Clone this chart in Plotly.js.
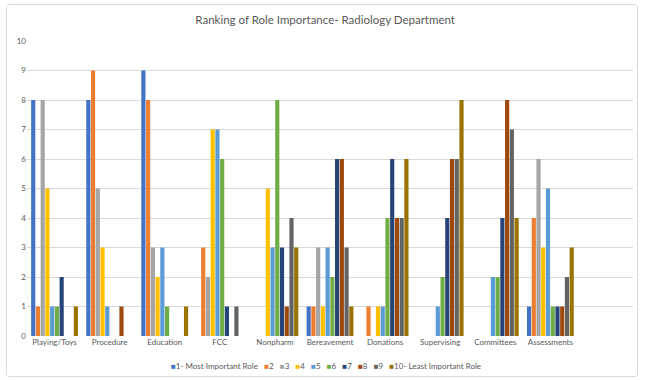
<!DOCTYPE html>
<html>
<head>
<meta charset="utf-8">
<script src="https://cdn.plot.ly/plotly-3.0.1.min.js"></script>
<style>
  html, body { margin: 0; padding: 0; background: #ffffff; }
  #wrap { position: absolute; left: 6px; top: 4px; width: 630px; height: 371px; border: 1px solid #d9d9d9; border-radius: 3px; background: #fff; }
  #chart { width: 630px; height: 371px; }
</style>
</head>
<body>
<div id="wrap"><div id="chart"></div></div>
<script>
// ---- data ----
const categories = ["Playing/Toys", "Procedure", "Education", "FCC", "Nonpharm", "Bereavement", "Donations", "Supervising", "Committees", "Assessments"];
const seriesNames = ["1- Most Important Role", "2", "3", "4", "5", "6", "7", "8", "9", "10- Least Important Role"];
const seriesColors = ["#4472C4", "#ED7D31", "#A5A5A5", "#FFC000", "#5B9BD5", "#70AD47", "#264478", "#9E480E", "#636363", "#997300"];
const rank1  = [8, 8, 9, 0, 0, 1, 0, 0, 0, 1];
const rank2  = [1, 9, 8, 3, 0, 1, 1, 0, 0, 4];
const rank3  = [8, 5, 3, 2, 0, 3, 0, 0, 0, 6];
const rank4  = [5, 3, 2, 7, 5, 1, 1, 0, 0, 3];
const rank5  = [1, 1, 3, 7, 3, 3, 1, 1, 2, 5];
const rank6  = [1, 0, 1, 6, 8, 2, 4, 2, 2, 1];
const rank7  = [2, 0, 0, 1, 3, 6, 6, 4, 4, 1];
const rank8  = [0, 1, 0, 0, 1, 6, 4, 6, 8, 1];
const rank9  = [0, 0, 0, 1, 4, 3, 4, 6, 7, 2];
const rank10 = [1, 0, 1, 0, 3, 1, 6, 8, 4, 3];
const seriesValues = [rank1, rank2, rank3, rank4, rank5, rank6, rank7, rank8, rank9, rank10];
const yTicks = [0, 1, 2, 3, 4, 5, 6, 7, 8, 9, 10];

const FONT = "Lato, 'Open Sans', sans-serif";
const TXT = "#595959";

const traces = seriesValues.map((vals, i) => ({
  type: "bar",
  name: seriesNames[i],
  x: categories,
  y: vals,
  marker: { color: seriesColors[i] },
  showlegend: false,
  hoverinfo: "x+y+name"
}));

const NB = "\u00A0";
const legendText = seriesNames.map((n, i) =>
  '<span style="color:' + seriesColors[i] + '">\u25A0</span>' + n
).join(NB + NB + NB);

const layout = {
  width: 630, height: 371,
  autosize: false,
  margin: { l: 20, r: 4, t: 36, b: 40 },
  paper_bgcolor: "#ffffff",
  plot_bgcolor: "#ffffff",
  font: { family: FONT, color: TXT, size: 8 },
  title: {
    text: "Ranking of Role Importance- Radiology Department",
    font: { family: FONT, size: 11.5, color: TXT },
    x: 0.505, xref: "container", xanchor: "center",
    y: 0.96, yref: "container", yanchor: "middle"
  },
  barmode: "group",
  bargap: 0.14,
  bargroupgap: 0.12,
  xaxis: {
    type: "category",
    range: [-0.5, 10.5],
    showgrid: false, zeroline: false, showline: false, ticks: "",
    tickfont: { family: FONT, size: 8, color: TXT },
    fixedrange: true
  },
  yaxis: {
    range: [0, 10],
    tickvals: yTicks,
    gridcolor: "#d9d9d9", gridwidth: 1,
    zeroline: false, showline: false, ticks: "",
    tickfont: { family: FONT, size: 8, color: TXT },
    fixedrange: true
  },
  showlegend: false,
  annotations: [{
    text: legendText,
    xref: "paper", yref: "paper",
    x: 0.493, y: -0.103,
    xanchor: "center", yanchor: "middle",
    showarrow: false,
    font: { family: FONT, size: 8, color: TXT }
  }]
};

Plotly.newPlot("chart", traces, layout, { displayModeBar: false, staticPlot: true });
</script>
</body>
</html>
